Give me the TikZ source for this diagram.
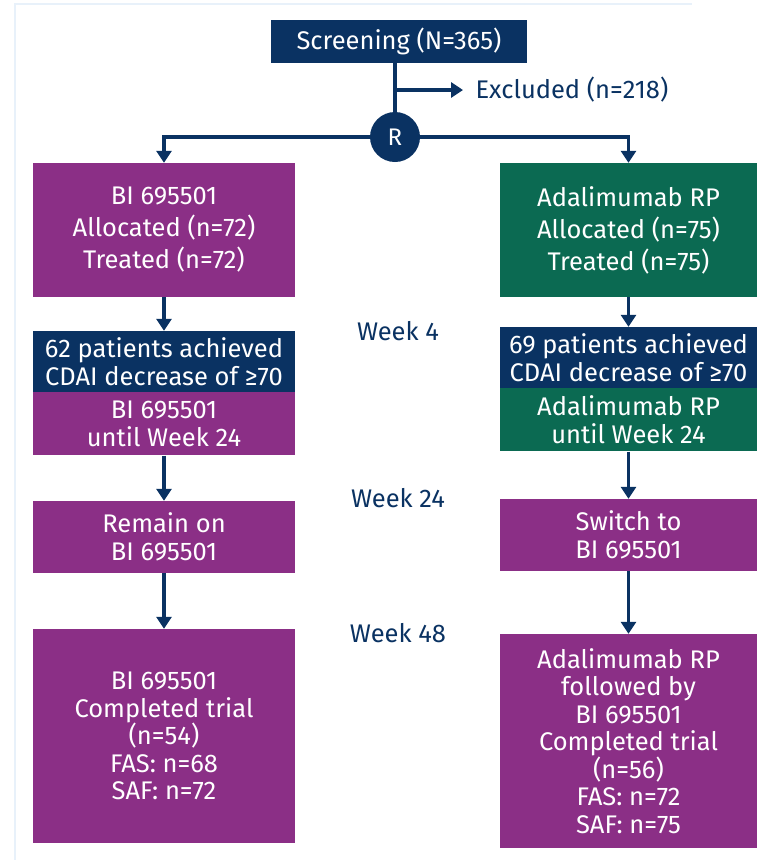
\documentclass[tikz,border=0pt]{standalone}
\usepackage{fontspec}
\setmainfont{Fira Sans}
\usetikzlibrary{arrows.meta}
\definecolor{navy}{HTML}{0A3262}
\definecolor{purp}{HTML}{8B2F86}
\definecolor{grn}{HTML}{0B6A52}
\definecolor{frame}{HTML}{E8F1FA}
\begin{document}
\begin{tikzpicture}[x=1pt,y=-1pt,
  box/.style={rectangle,inner sep=0pt,text=white,align=center,font=\fontsize{25.5}{27.5}\selectfont},
  wide/.style={font=\fontsize{25.5}{32}\selectfont},
  pbox/.style={box,fill=purp},
  gbox/.style={box,fill=grn},
  nbox/.style={box,fill=navy},
  wk/.style={text=navy,font=\fontsize{25.5}{28}\selectfont},
  conn/.style={draw=navy,line width=3.5pt},
  arr/.style={conn,-{Triangle[width=15pt,length=12pt]}}]
\useasboundingbox (0,0) rectangle (761,860);
\draw[frame,line width=2pt] (15,860) -- (15,4) -- (692,4);
% top
\node[nbox,minimum width=256pt,minimum height=43pt] (scr) at (399,41.5) {Screening (N=365)};
\node[circle,fill=navy,text=white,minimum size=50pt,inner sep=0pt,font=\fontsize{24}{26}\selectfont] (R) at (395,137) {R};
\node[wk,anchor=west] (exc) at (472,90) {Excluded (n=218)};
\coordinate (brk) at (395,90);
% left column
\node[pbox,wide,minimum width=262pt,minimum height=134pt] (L1) at (164,230) {BI 695501\\Allocated (n=72)\\Treated (n=72)};
\node[nbox,minimum width=262pt,minimum height=61pt] (L2h) at (164,361.5) {62 patients achieved\\CDAI decrease of ≥70};
\node[pbox,minimum width=262pt,minimum height=63pt,anchor=north] (L2b) at (L2h.south) {BI 695501\\until Week 24};
\node[pbox,minimum width=262pt,minimum height=72pt] (L3) at (164,537) {Remain on\\BI 695501};
\node[pbox,minimum width=262pt,minimum height=214pt] (L4) at (164,736) {BI 695501\\Completed trial\\(n=54)\\FAS: n=68\\SAF: n=72};
% right column
\node[gbox,wide,minimum width=257pt,minimum height=134pt] (R1) at (628.5,230) {Adalimumab RP\\Allocated (n=75)\\Treated (n=75)};
\node[nbox,minimum width=257pt,minimum height=61pt] (R2h) at (628.5,357.5) {69 patients achieved\\CDAI decrease of ≥70};
\node[gbox,minimum width=257pt,minimum height=63pt,anchor=north] (R2b) at (R2h.south) {Adalimumab RP\\until Week 24};
\node[pbox,minimum width=257pt,minimum height=72pt] (R3) at (628.5,535) {Switch to\\BI 695501};
\node[pbox,minimum width=257pt,minimum height=214pt] (R4) at (628.5,741) {Adalimumab RP\\followed by\\BI 695501\\Completed trial\\(n=56)\\FAS: n=72\\SAF: n=75};
% week labels
\node[wk] (w4) at (398,331) {Week 4};
\node[wk] (w24) at (398,498) {Week 24};
\node[wk] (w48) at (398,633) {Week 48};
% connectors
\draw[conn] (R.north) -- (R.north |- scr.south);
\draw[arr] (brk) -- (exc.west -| 463,0);
\draw[arr] (R.west) -| (L1.north);
\draw[arr] (R.east) -| (R1.north);
\draw[arr] (L1.south) -- (L2h.north);
\draw[arr] (L2b.south) -- (L3.north);
\draw[arr] (L3.south) -- (L4.north);
\draw[arr] (R1.south) -- (R2h.north);
\draw[arr] (R2b.south) -- (R3.north);
\draw[arr] (R3.south) -- (R4.north);
\end{tikzpicture}
\end{document}
